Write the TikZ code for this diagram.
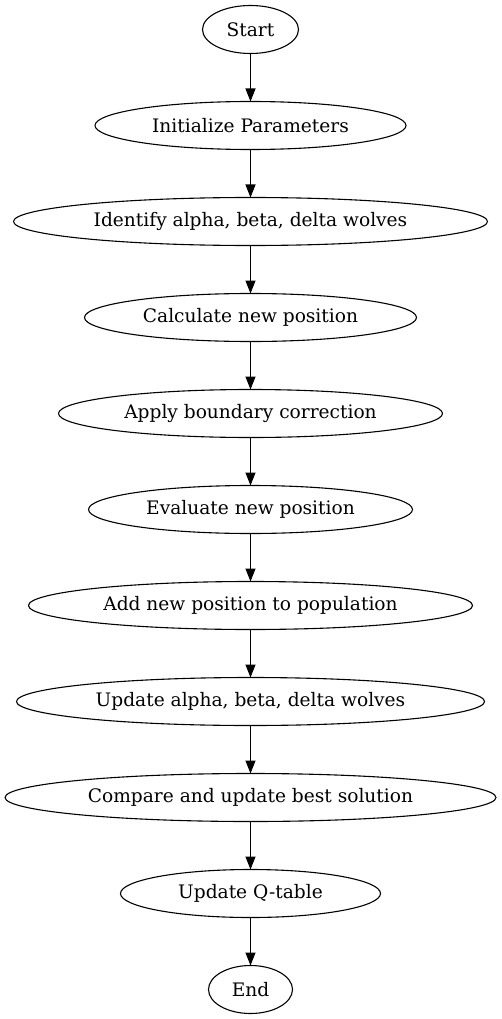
\documentclass[tikz,border=0pt]{standalone}
\usepackage{fontspec}
\setmainfont{DejaVu Serif}
\usetikzlibrary{positioning,shapes.geometric,arrows.meta}

\tikzset{
    step node/.style={ellipse, draw, line width=1.1pt, minimum height=48pt, inner sep=0pt,
        outer sep=0pt, font=\fontsize{18.6}{22}\selectfont},
    flow/.style={-{Triangle[length=13pt,width=10pt]}, line width=1.1pt}
}

\begin{document}
\begin{tikzpicture}
        \useasboundingbox (0,0) rectangle (501pt,-1019pt);
        \node[step node, minimum width=96pt] (start) at (250.5pt,-29.5pt) {Start};
        \node[step node, minimum width=311pt, below=48pt of start] (init) {Initialize Parameters};
        \node[step node, minimum width=474pt, below=48pt of init] (identify) {Identify alpha, beta, delta wolves};
        \node[step node, minimum width=332pt, below=48pt of identify] (calc) {Calculate new position};
        \node[step node, minimum width=384pt, below=48pt of calc] (boundary) {Apply boundary correction};
        \node[step node, minimum width=324pt, below=48pt of boundary] (evaluate) {Evaluate new position};
        \node[step node, minimum width=444pt, below=48pt of evaluate] (add) {Add new position to population};
        \node[step node, minimum width=468pt, below=48pt of add] (update) {Update alpha, beta, delta wolves};
        \node[step node, minimum width=491pt, below=48pt of update] (compare) {Compare and update best solution};
        \node[step node, minimum width=260pt, below=48pt of compare] (qtable) {Update Q-table};
        \node[step node, minimum width=84pt, below=48pt of qtable] (end) {End};

        \draw[flow] (start) -- (init);
        \draw[flow] (init) -- (identify);
        \draw[flow] (identify) -- (calc);
        \draw[flow] (calc) -- (boundary);
        \draw[flow] (boundary) -- (evaluate);
        \draw[flow] (evaluate) -- (add);
        \draw[flow] (add) -- (update);
        \draw[flow] (update) -- (compare);
        \draw[flow] (compare) -- (qtable);
        \draw[flow] (qtable) -- (end);
    \end{tikzpicture}
\end{document}
